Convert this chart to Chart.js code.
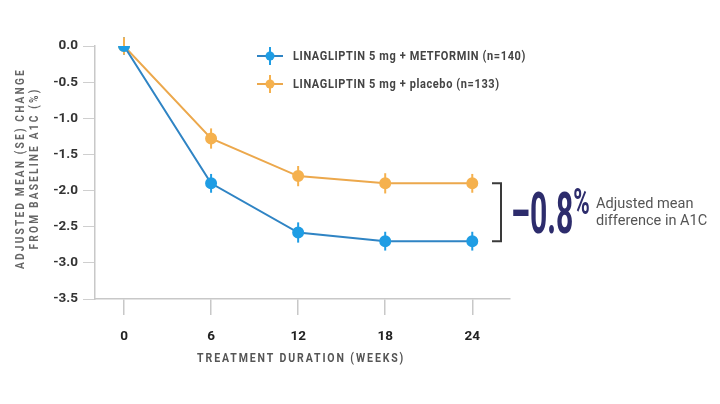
<!DOCTYPE html>
<html>
<head>
<meta charset="utf-8">
<script src="https://cdn.jsdelivr.net/npm/chart.js@4.4.1/dist/chart.umd.min.js"></script>
<style>
    html, body { margin: 0; padding: 0; background: #fff; }
    #wrap { width: 720px; height: 404px; position: relative; }
</style>
</head>
<body>
<div id="wrap"><canvas id="chart"></canvas></div>
<script>
// data
const weeks = [0, 6, 12, 18, 24];
const metforminMean = [0.0, -1.9, -2.58, -2.7, -2.7];
const metforminSE = [0.12, 0.13, 0.14, 0.13, 0.13];
const placeboMean = [0.0, -1.28, -1.8, -1.9, -1.9];
const placeboSE = [0.12, 0.14, 0.14, 0.14, 0.13];
const xTicks = [0, 6, 12, 18, 24];
const yTicks = [0, -0.5, -1.0, -1.5, -2.0, -2.5, -3.0, -3.5];
const seriesLabels = ['LINAGLIPTIN 5 mg + METFORMIN (n=140)', 'LINAGLIPTIN 5 mg + placebo (n=133)'];
const diffText = '\u20130.8';

const family = 'Roboto, "Noto Sans", sans-serif';
const blue = '#1f9de4';
const blueLine = '#2f84c4';
const orange = '#f5b14e';
const orangeLine = '#eca84c';
const navy = '#2d2c6c';

function toPoints(xs, ys) {
    return xs.map((x, i) => ({ x: x, y: ys[i] }));
}

// text squeezed horizontally, the original uses a condensed face
function narrowText(ctx, text, x, y, sx) {
    ctx.save();
    ctx.translate(x, y);
    ctx.scale(sx, 1);
    ctx.fillText(text, 0, 0);
    ctx.restore();
}

const errors = [metforminSE, placeboSE];

// vertical error bars, drawn under the points
const errorBars = {
    id: 'errorBars',
    beforeDatasetsDraw(chart) {
        const ctx = chart.ctx;
        const yScale = chart.scales.y;
        chart.data.datasets.forEach((ds, di) => {
            const meta = chart.getDatasetMeta(di);
            ctx.save();
            ctx.strokeStyle = ds.pointBackgroundColor;
            ctx.lineWidth = 2;
            meta.data.forEach((pt, i) => {
                const v = ds.data[i].y;
                const se = errors[di][i];
                ctx.beginPath();
                ctx.moveTo(pt.x, yScale.getPixelForValue(v + se));
                ctx.lineTo(pt.x, yScale.getPixelForValue(v - se));
                ctx.stroke();
            });
            ctx.restore();
        });
    }
};

// titles, legend and the difference bracket
const extras = {
    id: 'extras',
    afterDraw(chart) {
        const ctx = chart.ctx;
        const area = chart.chartArea;
        const x = chart.scales.x;
        const y = chart.scales.y;

        // y axis title
        ctx.save();
        ctx.translate(28, (area.top + area.bottom) / 2 - 4);
        ctx.rotate(-Math.PI / 2);
        ctx.fillStyle = '#666';
        ctx.font = 'bold 13px ' + family;
        ctx.letterSpacing = '2.8px';
        ctx.textAlign = 'center';
        ctx.textBaseline = 'middle';
        narrowText(ctx, 'ADJUSTED MEAN (SE) CHANGE', 0, -7, 0.78);
        narrowText(ctx, 'FROM BASELINE A1C (%)', 0, 7, 0.78);
        ctx.restore();

        // x axis title
        ctx.save();
        ctx.fillStyle = '#555';
        ctx.font = 'bold 13.5px ' + family;
        ctx.letterSpacing = '2.4px';
        ctx.textAlign = 'center';
        ctx.textBaseline = 'middle';
        narrowText(ctx, 'TREATMENT DURATION (WEEKS)', (x.getPixelForValue(0) + x.getPixelForValue(24)) / 2 + 3, 359, 0.78);
        ctx.restore();

        // legend
        chart.data.datasets.forEach((ds, i) => {
            const ly = 56 + i * 28;
            ctx.save();
            ctx.strokeStyle = ds.borderColor;
            ctx.lineWidth = 2;
            ctx.beginPath();
            ctx.moveTo(257, ly);
            ctx.lineTo(283, ly);
            ctx.stroke();
            ctx.strokeStyle = ds.pointBackgroundColor;
            ctx.beginPath();
            ctx.moveTo(270, ly - 9);
            ctx.lineTo(270, ly + 9);
            ctx.stroke();
            ctx.fillStyle = ds.pointBackgroundColor;
            ctx.beginPath();
            ctx.arc(270, ly, 4.5, 0, Math.PI * 2);
            ctx.fill();
            ctx.fillStyle = '#444';
            ctx.font = 'bold 12.5px ' + family;
            ctx.letterSpacing = '0.7px';
            ctx.textBaseline = 'middle';
            narrowText(ctx, ds.label, 293, ly + 1, 0.88);
            ctx.restore();
        });

        // bracket between the two week-24 means
        const top = y.getPixelForValue(placeboMean[4]);
        const bot = y.getPixelForValue(metforminMean[4]);
        const bx = 501;
        ctx.save();
        ctx.strokeStyle = '#3a3a3a';
        ctx.lineWidth = 2;
        ctx.beginPath();
        ctx.moveTo(bx - 9, top);
        ctx.lineTo(bx, top);
        ctx.lineTo(bx, bot);
        ctx.lineTo(bx - 9, bot);
        ctx.stroke();

        const mid = (top + bot) / 2;
        ctx.fillStyle = navy;
        ctx.font = 'bold 58px ' + family;
        ctx.textBaseline = 'alphabetic';
        const sx = 0.52;
        narrowText(ctx, diffText, 511, mid + 21, sx);
        const w = ctx.measureText(diffText).width * sx;
        ctx.font = 'bold 36px ' + family;
        narrowText(ctx, '%', 511 + w, mid + 2, 0.62);

        ctx.fillStyle = '#555';
        ctx.font = '15px ' + family;
        narrowText(ctx, 'Adjusted mean', 596, mid - 4, 0.97);
        narrowText(ctx, 'difference in A1C', 596, mid + 13, 0.97);
        ctx.restore();
    }
};

const ctx = document.getElementById('chart').getContext('2d');
new Chart(ctx, {
    type: 'line',
    data: {
        datasets: [
            {
                label: seriesLabels[0],
                data: toPoints(weeks, metforminMean),
                borderColor: blueLine,
                backgroundColor: blue,
                pointBackgroundColor: blue,
                pointBorderColor: blue,
                pointRadius: 5,
                borderWidth: 2,
                tension: 0
            },
            {
                label: seriesLabels[1],
                data: toPoints(weeks, placeboMean),
                borderColor: orangeLine,
                backgroundColor: orange,
                pointBackgroundColor: orange,
                pointBorderColor: orange,
                pointRadius: 5,
                borderWidth: 2,
                tension: 0
            }
        ]
    },
    options: {
        responsive: true,
        maintainAspectRatio: false,
        animation: false,
        layout: { padding: { top: 46, right: 210, left: 0, bottom: 0 } },
        plugins: {
            legend: { display: false },
            tooltip: { enabled: false }
        },
        scales: {
            x: {
                type: 'linear',
                min: -2,
                max: 26.6,
                afterBuildTicks: (s) => { s.ticks = xTicks.map(v => ({ value: v })); },
                afterFit: (s) => { s.height = 105; },
                grid: { drawOnChartArea: false, color: '#c8c8c8', tickLength: 16, lineWidth: 1.5 },
                border: { color: '#c8c8c8', width: 1.5 },
                ticks: {
                    padding: 14,
                    color: '#222',
                    font: { family: family, size: 13.5, weight: 'bold' }
                }
            },
            y: {
                min: -3.5,
                max: 0,
                afterBuildTicks: (s) => { s.ticks = yTicks.map(v => ({ value: v })); },
                afterFit: (s) => { s.width = 95; },
                grid: { drawOnChartArea: false, color: '#cfcfcf', tickLength: 12, lineWidth: 1 },
                border: { color: '#c8c8c8', width: 1.5 },
                ticks: {
                    padding: 5,
                    color: '#333',
                    font: { family: family, size: 13.5, weight: 'bold' },
                    callback: (v) => v.toFixed(1)
                }
            }
        }
    },
    plugins: [errorBars, extras]
});
</script>
</body>
</html>
